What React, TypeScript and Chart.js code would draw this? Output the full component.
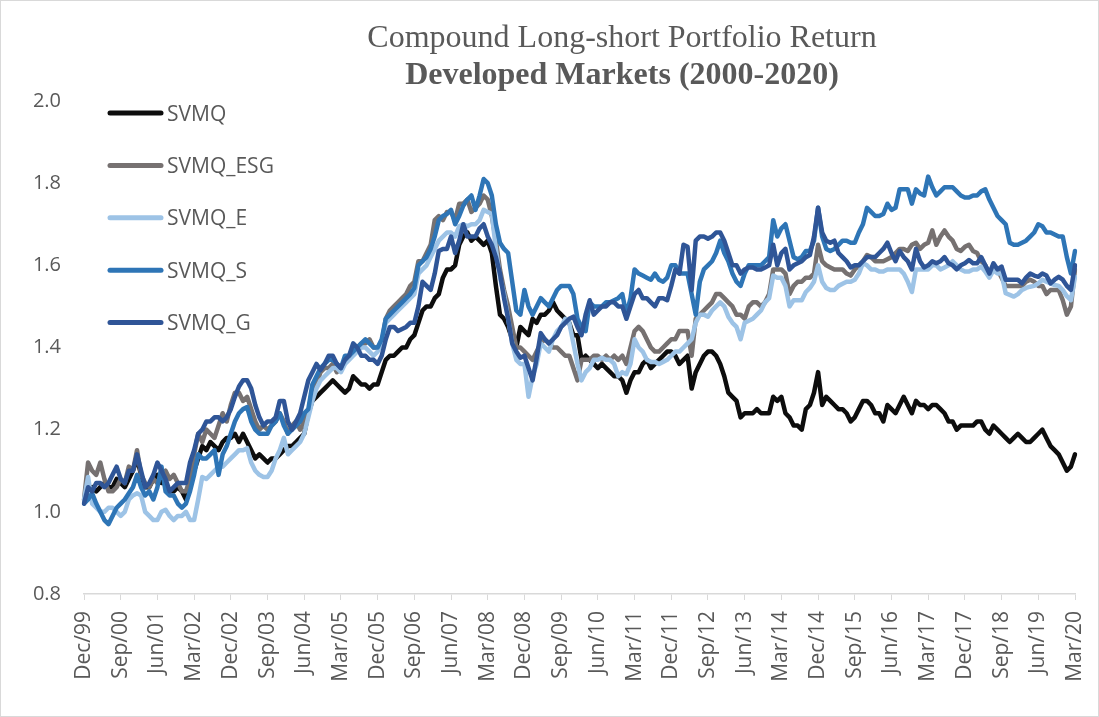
import React, { useEffect, useRef } from 'react';
import { Chart, registerables } from 'chart.js';

Chart.register(...registerables);

// ---------- Data ----------
const TITLE_LINES = ['Compound Long-short Portfolio Return', 'Developed Markets (2000-2020)'];
const SERIES_NAMES = ['SVMQ', 'SVMQ_ESG', 'SVMQ_E', 'SVMQ_S', 'SVMQ_G'];
const SERIES_COLORS = ['#0d0d0d', '#767171', '#9dc3e6', '#2e75b6', '#2f5597'];

const MONTH_NAMES = ['Jan', 'Feb', 'Mar', 'Apr', 'May', 'Jun', 'Jul', 'Aug', 'Sep', 'Oct', 'Nov', 'Dec'];
const START_YEAR = 1999;
const START_MONTH = 11; // December
const N_MONTHS = 244; // Dec/99 .. Mar/20
const TICK_EVERY = 9; // a labelled tick every 9 months
const Y_MIN = 0.8;
const Y_MAX = 2.0;
const Y_STEP = 0.2;

const categories: string[] = [];
for (let k = 0; k < N_MONTHS; k++) {
  const m = (START_MONTH + k) % 12;
  const y = START_YEAR + Math.floor((START_MONTH + k) / 12);
  categories.push(MONTH_NAMES[m] + '/' + String(y % 100).padStart(2, '0'));
}

const svmq = [1.03,
  1.05, 1.06, 1.05, 1.06, 1.07, 1.06, 1.06, 1.08, 1.07, 1.06, 1.08, 1.10,
  1.13, 1.09, 1.06, 1.06, 1.08, 1.09, 1.07, 1.07, 1.05, 1.05, 1.06, 1.05,
  1.03, 1.06, 1.10, 1.13, 1.16, 1.15, 1.17, 1.16, 1.15, 1.17, 1.18, 1.18,
  1.19, 1.17, 1.19, 1.17, 1.15, 1.13, 1.14, 1.13, 1.12, 1.13, 1.13, 1.14,
  1.15, 1.16, 1.16, 1.17, 1.18, 1.19, 1.24, 1.27, 1.28, 1.29, 1.30, 1.31,
  1.32, 1.31, 1.30, 1.29, 1.30, 1.33, 1.32, 1.31, 1.31, 1.30, 1.31, 1.31,
  1.34, 1.37, 1.38, 1.38, 1.39, 1.40, 1.40, 1.42, 1.43, 1.46, 1.49, 1.50,
  1.50, 1.52, 1.53, 1.57, 1.59, 1.59, 1.60, 1.65, 1.67, 1.68, 1.66, 1.67,
  1.66, 1.65, 1.66, 1.63, 1.55, 1.48, 1.47, 1.45, 1.42, 1.40, 1.45, 1.44,
  1.43, 1.47, 1.46, 1.48, 1.48, 1.49, 1.51, 1.49, 1.48, 1.47, 1.46, 1.43,
  1.43, 1.37, 1.38, 1.37, 1.36, 1.35, 1.36, 1.35, 1.34, 1.33, 1.33, 1.32,
  1.29, 1.32, 1.34, 1.34, 1.36, 1.37, 1.35, 1.36, 1.37, 1.38, 1.39, 1.39,
  1.38, 1.36, 1.37, 1.38, 1.30, 1.34, 1.36, 1.38, 1.39, 1.39, 1.38, 1.36,
  1.33, 1.29, 1.28, 1.27, 1.23, 1.24, 1.24, 1.24, 1.25, 1.24, 1.24, 1.24,
  1.28, 1.27, 1.28, 1.24, 1.23, 1.21, 1.21, 1.20, 1.25, 1.26, 1.29, 1.34,
  1.26, 1.28, 1.27, 1.26, 1.25, 1.25, 1.24, 1.22, 1.23, 1.25, 1.27, 1.27,
  1.26, 1.24, 1.24, 1.22, 1.26, 1.25, 1.24, 1.26, 1.28, 1.26, 1.24, 1.27,
  1.26, 1.26, 1.25, 1.26, 1.26, 1.25, 1.24, 1.22, 1.22, 1.20, 1.21, 1.21,
  1.21, 1.21, 1.22, 1.22, 1.20, 1.19, 1.21, 1.20, 1.19, 1.18, 1.17, 1.18,
  1.19, 1.18, 1.17, 1.17, 1.18, 1.19, 1.20, 1.18, 1.16, 1.15, 1.14, 1.12,
  1.10, 1.11, 1.14];

const svmqEsg = [1.03,
  1.12, 1.10, 1.09, 1.12, 1.08, 1.05, 1.05, 1.06, 1.08, 1.07, 1.11, 1.10,
  1.15, 1.09, 1.07, 1.06, 1.08, 1.07, 1.09, 1.10, 1.08, 1.09, 1.07, 1.05,
  1.05, 1.08, 1.14, 1.19, 1.17, 1.20, 1.19, 1.18, 1.21, 1.24, 1.22, 1.26,
  1.29, 1.29, 1.27, 1.28, 1.25, 1.22, 1.20, 1.21, 1.20, 1.21, 1.22, 1.24,
  1.22, 1.19, 1.21, 1.22, 1.20, 1.22, 1.24, 1.30, 1.31, 1.34, 1.35, 1.35,
  1.36, 1.34, 1.35, 1.37, 1.38, 1.39, 1.40, 1.41, 1.41, 1.42, 1.40, 1.40,
  1.41, 1.47, 1.49, 1.50, 1.51, 1.52, 1.53, 1.55, 1.56, 1.61, 1.61, 1.63,
  1.65, 1.71, 1.72, 1.71, 1.73, 1.73, 1.71, 1.75, 1.75, 1.76, 1.73, 1.74,
  1.75, 1.77, 1.76, 1.72, 1.66, 1.59, 1.54, 1.50, 1.45, 1.40, 1.40, 1.39,
  1.38, 1.37, 1.39, 1.41, 1.42, 1.41, 1.40, 1.40, 1.39, 1.38, 1.38, 1.35,
  1.32, 1.37, 1.37, 1.37, 1.38, 1.38, 1.37, 1.38, 1.37, 1.38, 1.37, 1.38,
  1.36, 1.40, 1.44, 1.45, 1.44, 1.42, 1.40, 1.39, 1.39, 1.40, 1.41, 1.42,
  1.42, 1.44, 1.44, 1.44, 1.38, 1.47, 1.48, 1.49, 1.50, 1.51, 1.53, 1.53,
  1.52, 1.51, 1.50, 1.48, 1.48, 1.47, 1.50, 1.51, 1.51, 1.50, 1.51, 1.53,
  1.59, 1.59, 1.59, 1.58, 1.53, 1.55, 1.56, 1.56, 1.57, 1.57, 1.58, 1.65,
  1.61, 1.60, 1.595, 1.59, 1.59, 1.59, 1.58, 1.575, 1.59, 1.60, 1.61, 1.625,
  1.62, 1.61, 1.61, 1.61, 1.615, 1.62, 1.63, 1.64, 1.64, 1.635, 1.65, 1.655,
  1.64, 1.65, 1.655, 1.685, 1.65, 1.67, 1.685, 1.67, 1.66, 1.64, 1.635, 1.645,
  1.65, 1.635, 1.63, 1.61, 1.60, 1.58, 1.60, 1.59, 1.57, 1.55, 1.55, 1.55,
  1.55, 1.55, 1.56, 1.565, 1.56, 1.55, 1.55, 1.53, 1.54, 1.54, 1.54, 1.515,
  1.48, 1.50, 1.59];

const svmqE = [1.03,
  1.085, 1.02, 1.01, 1.00, 1.00, 1.01, 1.01, 1.00, 0.99, 1.00, 1.03, 1.04,
  1.045, 1.04, 1.00, 0.99, 0.98, 0.98, 1.00, 1.005, 0.99, 0.98, 0.99, 0.99,
  1.00, 0.98, 0.98, 1.03, 1.085, 1.08, 1.09, 1.10, 1.11, 1.11, 1.12, 1.13,
  1.14, 1.15, 1.15, 1.155, 1.12, 1.10, 1.09, 1.085, 1.085, 1.10, 1.13, 1.15,
  1.18, 1.14, 1.15, 1.16, 1.17, 1.19, 1.23, 1.27, 1.30, 1.32, 1.33, 1.34,
  1.35, 1.35, 1.34, 1.36, 1.37, 1.38, 1.39, 1.40, 1.40, 1.39, 1.38, 1.39,
  1.41, 1.46, 1.47, 1.48, 1.49, 1.50, 1.51, 1.52, 1.53, 1.58, 1.59, 1.60,
  1.62, 1.64, 1.66, 1.67, 1.68, 1.68, 1.67, 1.695, 1.70, 1.695, 1.70, 1.70,
  1.71, 1.735, 1.73, 1.725, 1.64, 1.57, 1.53, 1.47, 1.41, 1.37, 1.36, 1.36,
  1.28, 1.33, 1.36, 1.41, 1.40, 1.39, 1.42, 1.44, 1.45, 1.47, 1.46, 1.41,
  1.36, 1.32, 1.34, 1.35, 1.37, 1.37, 1.375, 1.37, 1.37, 1.36, 1.33, 1.34,
  1.335, 1.36, 1.42, 1.40, 1.39, 1.37, 1.365, 1.365, 1.36, 1.365, 1.37, 1.38,
  1.39, 1.39, 1.40, 1.41, 1.42, 1.46, 1.48, 1.48, 1.475, 1.49, 1.50, 1.51,
  1.50, 1.475, 1.46, 1.45, 1.42, 1.46, 1.465, 1.47, 1.48, 1.49, 1.51, 1.52,
  1.575, 1.57, 1.57, 1.55, 1.50, 1.515, 1.515, 1.515, 1.535, 1.545, 1.56, 1.60,
  1.56, 1.545, 1.54, 1.54, 1.55, 1.555, 1.56, 1.56, 1.565, 1.58, 1.605, 1.60,
  1.59, 1.59, 1.585, 1.585, 1.59, 1.59, 1.59, 1.59, 1.58, 1.56, 1.535, 1.59,
  1.59, 1.59, 1.59, 1.60, 1.60, 1.59, 1.595, 1.60, 1.61, 1.60, 1.59, 1.585,
  1.585, 1.59, 1.59, 1.597, 1.585, 1.57, 1.588, 1.58, 1.58, 1.532, 1.528, 1.524,
  1.53, 1.54, 1.545, 1.548, 1.55, 1.556, 1.565, 1.56, 1.556, 1.552, 1.55, 1.54,
  1.525, 1.515, 1.572];

const svmqS = [1.02,
  1.03, 1.045, 1.02, 1.00, 0.98, 0.97, 0.99, 1.01, 1.02, 1.03, 1.045, 1.06,
  1.09, 1.06, 1.04, 1.05, 1.03, 1.06, 1.11, 1.05, 1.04, 1.04, 1.02, 1.01,
  1.02, 1.05, 1.09, 1.14, 1.13, 1.13, 1.14, 1.15, 1.09, 1.14, 1.16, 1.19,
  1.22, 1.24, 1.25, 1.255, 1.22, 1.20, 1.19, 1.19, 1.19, 1.21, 1.22, 1.24,
  1.21, 1.19, 1.20, 1.21, 1.22, 1.24, 1.25, 1.31, 1.33, 1.35, 1.36, 1.37,
  1.37, 1.36, 1.35, 1.38, 1.38, 1.39, 1.40, 1.41, 1.42, 1.41, 1.40, 1.40,
  1.42, 1.47, 1.48, 1.49, 1.50, 1.51, 1.52, 1.53, 1.545, 1.60, 1.61, 1.62,
  1.64, 1.67, 1.71, 1.72, 1.725, 1.735, 1.70, 1.72, 1.745, 1.76, 1.77, 1.735,
  1.77, 1.81, 1.80, 1.77, 1.70, 1.655, 1.64, 1.63, 1.56, 1.49, 1.48, 1.54,
  1.50, 1.48, 1.50, 1.52, 1.51, 1.50, 1.52, 1.54, 1.55, 1.55, 1.55, 1.53,
  1.47, 1.45, 1.44, 1.51, 1.50, 1.50, 1.50, 1.51, 1.51, 1.515, 1.52, 1.53,
  1.48, 1.52, 1.59, 1.58, 1.575, 1.57, 1.565, 1.58, 1.565, 1.56, 1.57, 1.60,
  1.60, 1.58, 1.58, 1.58, 1.53, 1.48, 1.56, 1.59, 1.60, 1.61, 1.63, 1.66,
  1.63, 1.61, 1.58, 1.56, 1.55, 1.58, 1.60, 1.60, 1.60, 1.60, 1.61, 1.62,
  1.71, 1.67, 1.69, 1.70, 1.66, 1.62, 1.615, 1.62, 1.635, 1.635, 1.66, 1.74,
  1.67, 1.64, 1.635, 1.64, 1.65, 1.66, 1.66, 1.655, 1.655, 1.68, 1.70, 1.74,
  1.73, 1.72, 1.72, 1.725, 1.75, 1.735, 1.74, 1.785, 1.785, 1.785, 1.75, 1.785,
  1.775, 1.77, 1.816, 1.79, 1.77, 1.78, 1.79, 1.79, 1.79, 1.78, 1.77, 1.765,
  1.765, 1.77, 1.77, 1.78, 1.785, 1.76, 1.74, 1.72, 1.71, 1.70, 1.655, 1.65,
  1.65, 1.655, 1.66, 1.67, 1.68, 1.70, 1.695, 1.68, 1.68, 1.675, 1.67, 1.67,
  1.62, 1.58, 1.635];

const svmqG = [1.02,
  1.06, 1.05, 1.07, 1.07, 1.06, 1.07, 1.09, 1.11, 1.08, 1.07, 1.10, 1.10,
  1.14, 1.10, 1.06, 1.07, 1.09, 1.12, 1.10, 1.08, 1.05, 1.06, 1.07, 1.07,
  1.07, 1.12, 1.15, 1.19, 1.20, 1.22, 1.22, 1.23, 1.23, 1.22, 1.23, 1.25,
  1.28, 1.305, 1.32, 1.32, 1.30, 1.26, 1.23, 1.21, 1.22, 1.22, 1.23, 1.27,
  1.27, 1.22, 1.20, 1.22, 1.24, 1.28, 1.32, 1.34, 1.36, 1.345, 1.36, 1.38,
  1.38, 1.36, 1.35, 1.37, 1.38, 1.41, 1.40, 1.38, 1.38, 1.37, 1.37, 1.36,
  1.38, 1.42, 1.45, 1.45, 1.44, 1.445, 1.45, 1.46, 1.46, 1.50, 1.56, 1.55,
  1.54, 1.58, 1.635, 1.64, 1.64, 1.67, 1.63, 1.66, 1.70, 1.67, 1.67, 1.67,
  1.69, 1.70, 1.67, 1.65, 1.62, 1.58, 1.52, 1.47, 1.41, 1.39, 1.375, 1.38,
  1.35, 1.32, 1.375, 1.435, 1.42, 1.41, 1.42, 1.43, 1.45, 1.46, 1.47, 1.475,
  1.45, 1.43, 1.48, 1.515, 1.48, 1.49, 1.50, 1.50, 1.51, 1.51, 1.50, 1.50,
  1.47, 1.50, 1.53, 1.54, 1.52, 1.52, 1.51, 1.50, 1.52, 1.52, 1.515, 1.55,
  1.59, 1.58, 1.65, 1.645, 1.54, 1.66, 1.67, 1.67, 1.665, 1.67, 1.68, 1.68,
  1.66, 1.63, 1.60, 1.60, 1.58, 1.59, 1.595, 1.595, 1.59, 1.59, 1.595, 1.60,
  1.65, 1.60, 1.63, 1.64, 1.59, 1.60, 1.605, 1.61, 1.62, 1.625, 1.67, 1.74,
  1.68, 1.66, 1.655, 1.66, 1.63, 1.62, 1.61, 1.595, 1.60, 1.60, 1.61, 1.62,
  1.62, 1.62, 1.63, 1.64, 1.655, 1.63, 1.61, 1.635, 1.62, 1.61, 1.59, 1.64,
  1.61, 1.595, 1.60, 1.61, 1.605, 1.61, 1.62, 1.605, 1.60, 1.59, 1.60, 1.605,
  1.613, 1.605, 1.605, 1.62, 1.60, 1.58, 1.605, 1.59, 1.597, 1.565, 1.565, 1.565,
  1.565, 1.556, 1.57, 1.58, 1.575, 1.572, 1.58, 1.575, 1.556, 1.565, 1.572, 1.565,
  1.55, 1.54, 1.60];

const SERIES_VALUES = [svmq, svmqEsg, svmqE, svmqS, svmqG];

// ---------- Styling constants ----------
const TEXT_COLOR = '#595959';
const AXIS_COLOR = '#d9d9d9';
const SANS = "'Open Sans', 'Noto Sans', sans-serif";
const SERIF = "'Liberation Serif', 'Times New Roman', serif";

const titlePlugin = {
  id: 'twoLineTitle',
  afterDraw(chart: any) {
    const ctx = chart.ctx;
    ctx.save();
    ctx.fillStyle = TEXT_COLOR;
    ctx.textAlign = 'center';
    ctx.textBaseline = 'alphabetic';
    ctx.font = '32px ' + SERIF;
    ctx.fillText(TITLE_LINES[0], 622, 47);
    ctx.font = 'bold 32px ' + SERIF;
    ctx.fillText(TITLE_LINES[1], 622, 84);
    ctx.restore();
  },
};

const legendPlugin = {
  id: 'insideLegend',
  afterDraw(chart: any) {
    const ctx = chart.ctx;
    const left = chart.chartArea.left + 24;
    const top = chart.chartArea.top + 12;
    ctx.save();
    ctx.font = '21px ' + SANS;
    ctx.textAlign = 'left';
    ctx.textBaseline = 'alphabetic';
    SERIES_NAMES.forEach((name, k) => {
      const y = top + k * 52.4;
      ctx.strokeStyle = SERIES_COLORS[k];
      ctx.lineWidth = 5;
      ctx.lineCap = 'round';
      ctx.beginPath();
      ctx.moveTo(left + 2, y);
      ctx.lineTo(left + 53, y);
      ctx.stroke();
      ctx.fillStyle = TEXT_COLOR;
      ctx.fillText(name, left + 59, y + 7.5);
    });
    ctx.restore();
  },
};

export default function App() {
  const canvasRef = useRef<HTMLCanvasElement | null>(null);

  useEffect(() => {
    if (!canvasRef.current) return;
    Chart.defaults.font.family = SANS;
    const datasets = SERIES_NAMES.map((name, k) => ({
      label: name,
      data: SERIES_VALUES[k],
      borderColor: SERIES_COLORS[k],
      backgroundColor: SERIES_COLORS[k],
      borderWidth: 4.5,
      pointRadius: 0,
      pointHoverRadius: 0,
      tension: 0,
      fill: false,
      borderJoinStyle: 'round' as const,
      borderCapStyle: 'round' as const,
      order: SERIES_NAMES.length - 1 - k,
    }));

    const chart = new Chart(canvasRef.current, {
      type: 'line',
      data: { labels: categories, datasets },
      options: {
        animation: false,
        responsive: false,
        maintainAspectRatio: false,
        layout: { padding: { top: 101, right: 24, left: 0, bottom: 0 } },
        plugins: {
          legend: { display: false },
          title: { display: false },
          tooltip: { enabled: false },
        },
        scales: {
          x: {
            type: 'category',
            offset: false,
            afterFit: (scale: any) => {
              scale.height = 123;
              scale.paddingRight = 0;
              scale.paddingLeft = 0;
            },
            border: { display: true, color: AXIS_COLOR, width: 1.5 },
            grid: {
              display: true,
              drawOnChartArea: false,
              drawTicks: true,
              tickLength: 6,
              offset: false,
              color: (c: any) => (c.index % TICK_EVERY === 0 ? AXIS_COLOR : 'rgba(0,0,0,0)'),
            },
            ticks: {
              autoSkip: false,
              maxRotation: 90,
              minRotation: 90,
              padding: 11,
              color: TEXT_COLOR,
              font: { size: 21, family: SANS },
              callback: (_v: any, i: number) => (i % TICK_EVERY === 0 ? categories[i] : ''),
            },
          },
          y: {
            min: Y_MIN,
            max: Y_MAX,
            afterFit: (scale: any) => {
              scale.width = 84;
            },
            border: { display: false },
            grid: { display: false, drawTicks: false },
            ticks: {
              stepSize: Y_STEP,
              padding: 23,
              color: TEXT_COLOR,
              font: { size: 20, family: SANS },
              callback: (v: any) => Number(v).toFixed(1),
            },
          },
        },
      },
      plugins: [titlePlugin, legendPlugin],
    });
    return () => chart.destroy();
  }, []);

  return (
    <div style={{ position: 'fixed', left: 0, top: 0, width: 1099, height: 717, background: '#ffffff' }}>
      <canvas ref={canvasRef} width={1099} height={717} style={{ display: 'block' }} />
      <div
        style={{
          position: 'absolute',
          left: 0,
          top: 0,
          width: 1099,
          height: 717,
          boxSizing: 'border-box',
          border: '1px solid #d9d9d9',
          pointerEvents: 'none',
        }}
      />
    </div>
  );
}
